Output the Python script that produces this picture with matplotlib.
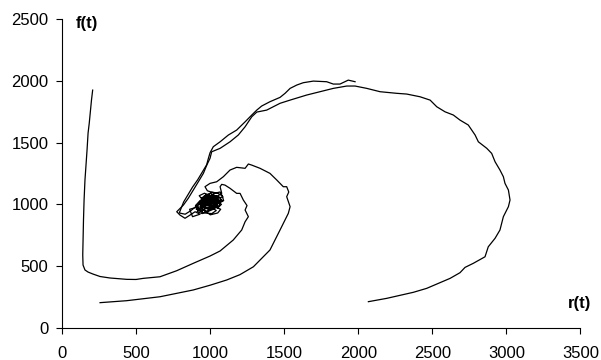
import matplotlib
matplotlib.use("Agg")
import matplotlib.pyplot as plt

# trajectories of prey r(t) and predator f(t)
traj_a_r = [205, 197, 187, 182, 174, 167, 160, 153, 147, 143, 140, 138, 140, 153, 174, 207,
            255, 322, 435, 498, 547, 660, 773, 885, 998, 1066, 1155, 1212, 1235, 1257, 1235,
            1248, 1223, 1201, 1178, 1133, 1099, 1077, 1066, 1077, 1040]
traj_a_f = [1926, 1845, 1724, 1659, 1578, 1440, 1318, 1197, 1035, 873, 711, 590, 508, 468, 451, 435,
            415, 403, 392, 391, 400, 413, 462, 522, 581, 622, 711, 792, 859, 900, 954,
            990, 1035, 1089, 1089, 1130, 1156, 1162, 1143, 1089, 1060]

# the tangle where all runs end up, around the equilibrium
blob_r = [1040, 1000, 960, 980, 1030, 1070, 1060, 1020, 980, 940, 960, 1000, 1040, 1010, 960, 920,
          900, 930, 970, 1010, 1050, 1080, 1090, 1060, 1020, 990, 950, 925, 950, 990, 1030, 1070,
          1050, 1000, 960, 930, 960, 1000, 1040, 1075, 1050, 1010, 975, 945, 925, 960, 1000, 1030,
          1065, 1085, 1050, 1010, 970, 935, 910, 945, 985, 1020, 1060, 1040, 995, 955, 920, 905,
          940, 980, 1015, 1050, 1030, 990, 955, 975, 1020, 1060, 1080, 1045, 1005, 965, 935, 960, 1000,
          1025, 985, 1010, 970, 995, 1035, 1015, 975, 950, 990, 1025, 1055, 1030, 1000, 965, 945,
          980, 1015, 1045, 1020, 985, 955, 990, 1030, 1005, 970, 940, 975, 1010, 1050, 1035, 995]
blob_f = [1060, 1090, 1070, 1030, 1010, 1040, 990, 960, 940, 960, 1000, 980, 950, 925, 930, 950,
          990, 1030, 1060, 1100, 1090, 1070, 1030, 1010, 1040, 1070, 1050, 1010, 975, 960, 980, 960,
          930, 915, 950, 985, 1020, 1040, 1030, 1000, 970, 1000, 1010, 1040, 1070, 1090, 1070, 1090,
          1100, 1060, 1050, 1020, 990, 970, 940, 925, 950, 990, 1020, 1070, 1050, 1035, 1000, 960,
          945, 975, 965, 995, 1025, 1005, 990, 1050, 1075, 1060, 1030, 1010, 980, 965, 1000, 1040, 1060,
          1035, 1015, 985, 1000, 1045, 1055, 1020, 995, 1020, 1060, 1045, 1015, 985, 955, 975, 1010,
          1035, 1010, 1040, 1075, 1055, 990, 965, 995, 1030, 1015, 1050, 1080, 1065, 1040, 1005, 1025]

traj_b_r = [255, 435, 660, 885, 1000, 1111, 1200, 1291, 1403, 1471, 1527, 1539, 1516, 1530, 1516,
            1493, 1449, 1403, 1336, 1280, 1257, 1235, 1178, 1133, 1088, 1043, 998, 964,
            980, 1030, 1000, 1040, 990, 950, 1010]
traj_b_f = [203, 219, 251, 306, 345, 387, 430, 494, 630, 792, 927, 981, 1062, 1100, 1143,
            1143, 1197, 1251, 1292, 1318, 1327, 1292, 1300, 1278, 1224, 1183, 1170, 1143,
            1110, 1090, 1060, 1030, 1000, 1040, 1070]

traj_c_r = [2068, 2192, 2372, 2462, 2620, 2687, 2721, 2777, 2856, 2878, 2924, 2957, 2980, 3014,
            3025, 3014, 2991, 2980, 2957, 2924, 2901, 2868, 2811, 2789, 2743, 2687, 2642, 2586,
            2530, 2485, 2417, 2327, 2259, 2147, 2057, 1978, 1922, 1831, 1741, 1651, 1539, 1471,
            1381, 1314, 1280, 1235, 1189, 1133, 1066, 1009, 998, 976, 953, 919, 885, 851, 818,
            773, 795, 829, 863, 897, 930, 880, 860, 920, 950, 900, 960]
traj_c_f = [211, 238, 287, 319, 400, 446, 489, 522, 575, 656, 725, 792, 900, 981,
            1035, 1116, 1170, 1224, 1278, 1345, 1413, 1454, 1507, 1562, 1643, 1683, 1724, 1750,
            1791, 1845, 1872, 1894, 1900, 1913, 1940, 1959, 1959, 1940, 1913, 1886, 1845, 1819,
            1764, 1748, 1710, 1629, 1562, 1507, 1454, 1426, 1373, 1318, 1251, 1183, 1116, 1049, 994,
            940, 913, 887, 913, 940, 920, 900, 960, 980, 930, 990, 1010]

traj_d_r = [1978, 1932, 1876, 1831, 1786, 1696, 1628, 1584, 1539, 1505, 1471, 1403, 1347, 1314,
            1280, 1235, 1178, 1122, 1066, 1020, 998, 987, 975, 945, 915, 880, 850, 820, 800,
            790, 830, 870, 920]
traj_d_f = [1994, 2007, 1975, 1975, 1994, 1999, 1986, 1967, 1940, 1900, 1867, 1832, 1797, 1764,
            1724, 1669, 1602, 1562, 1507, 1467, 1418, 1373, 1320, 1260, 1200, 1140, 1080, 1020, 960,
            930, 920, 950, 1000]

x_ticks = [0, 500, 1000, 1500, 2000, 2500, 3000, 3500]
y_ticks = [0, 500, 1000, 1500, 2000, 2500]

plt.rcParams['font.family'] = ['Liberation Sans', 'DejaVu Sans']

fig = plt.figure(figsize=(6.01, 3.6), dpi=100)
ax = fig.add_axes([0.1037, 0.0897, 0.9656 - 0.1037, 0.9464 - 0.0897])

curvas = [(traj_a_r + blob_r, traj_a_f + blob_f), (traj_b_r, traj_b_f),
          (traj_c_r, traj_c_f), (traj_d_r, traj_d_f)]
for rr, ff in curvas:
    ax.plot(rr, ff, color='black', linewidth=0.9)

ax.set_xlim(0, 3500)
ax.set_ylim(0, 2500)
ax.set_xticks(x_ticks)
ax.set_yticks(y_ticks)
ax.tick_params(axis='both', labelsize=12, length=4, width=0.8, direction='out', colors='black')
ax.tick_params(axis='x', pad=9)
ax.tick_params(axis='y', pad=6)

ax.spines['top'].set_visible(False)
ax.spines['right'].set_visible(False)
ax.spines['left'].set_linewidth(0.8)
ax.spines['bottom'].set_linewidth(0.8)

ax.text(164, 2469, 'f(t)', fontsize=12, fontweight='bold', ha='center', va='center', clip_on=False)
ax.text(3495, 198, 'r(t)', fontsize=12, fontweight='bold', ha='center', va='center', clip_on=False)

fig.savefig('out.png', dpi=100)
